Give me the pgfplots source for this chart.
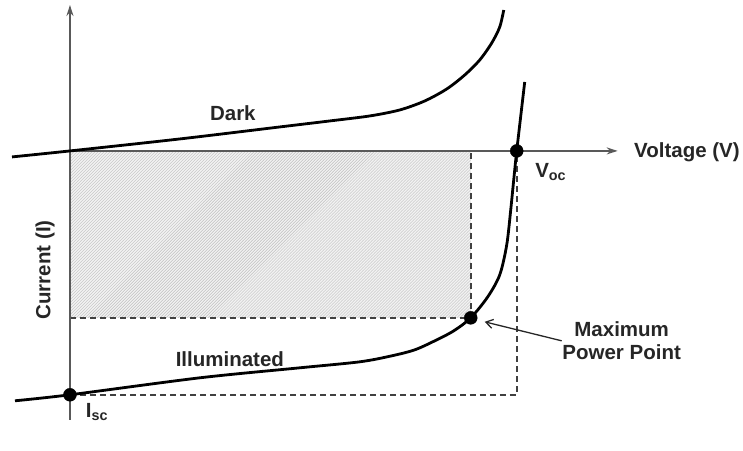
\documentclass[border=0pt]{standalone}
\usepackage{pgfplots}
\pgfplotsset{compat=1.18}
\usepackage{fontspec}
\setmainfont{Liberation Sans}
\usetikzlibrary{patterns,arrows.meta}
\tikzset{lbl/.style={font=\fontsize{20.5}{23}\selectfont\bfseries, text=black!85}}
\begin{document}
\begin{tikzpicture}
\begin{axis}[width=743pt, height=451pt, scale only axis,
  xmin=0, xmax=743, ymin=0, ymax=451, y dir=reverse,
  axis lines=none, clip=false]
% bounding
\path (axis cs:0,0) rectangle (axis cs:743,451);
% shaded area
\addplot[fill=gray!10, draw=none] coordinates {(70,151) (471,151) (471,318) (70,318)} -- cycle;
\addplot[pattern=north east lines, pattern color=gray!50, draw=none] coordinates {(70,151) (471,151) (471,318) (70,318)} -- cycle;
% dashed lines
\addplot[black!75, line width=1.6pt, dash pattern=on 6pt off 4pt] coordinates {(70,318) (471,318) (471,151)};
\addplot[black!75, line width=1.6pt, dash pattern=on 6pt off 4pt] coordinates {(70,395) (517,395) (517,151)};
\addplot[black!60, line width=1.4pt, dash pattern=on 3pt off 2pt] coordinates {(70,151) (70,318)};
% axes
\addplot[gray!70!black, line width=1.6pt, -{Stealth[length=11pt,width=7pt]}] coordinates {(70,420) (70,5)};
\addplot[gray!70!black, line width=1.6pt, -{Stealth[length=11pt,width=7pt]}] coordinates {(70,151) (618,151)};
% dark curve
\addplot[black, line width=2.8pt, smooth] coordinates {
(12,157) (70,151) (180,139) (280,127) (330,121) (370,116) (400,110) (425,101) (447,89) (465,75) (480,60) (492,43) (500,27) (504,10)};
% illuminated curve
\addplot[black, line width=2.8pt, smooth] coordinates {
(15,401) (70,395) (200,378) (300,368) (360,362) (392,356) (415,350) (435,341) (454,331) (471,318) (488,297) (500,275) (507,245) (511,210) (514,180) (517,151) (525,82)};
% points
\addplot[only marks, mark=*, mark size=6.5pt, black] coordinates {(70,395) (471,318) (517,151)};
% MPP arrow
\addplot[black!85, line width=1.3pt, -{Straight Barb[length=7pt,width=9pt]}] coordinates {(562,341) (485,322)};
% labels
\node[lbl] at (axis cs:233,113) {Dark};
\node[lbl] at (axis cs:230,359) {Illuminated};
\node[lbl, anchor=west] at (axis cs:631,152) {Voltage (V)};
\node[lbl] at (axis cs:97,412) {I\textsubscript{sc}};
\node[lbl] at (axis cs:551,172) {V\textsubscript{oc}};
\node[lbl, align=center] at (axis cs:622,341) {Maximum\\Power Point};
\node[lbl, rotate=90] at (axis cs:45,270) {Current (I)};
\end{axis}
\end{tikzpicture}
\end{document}
